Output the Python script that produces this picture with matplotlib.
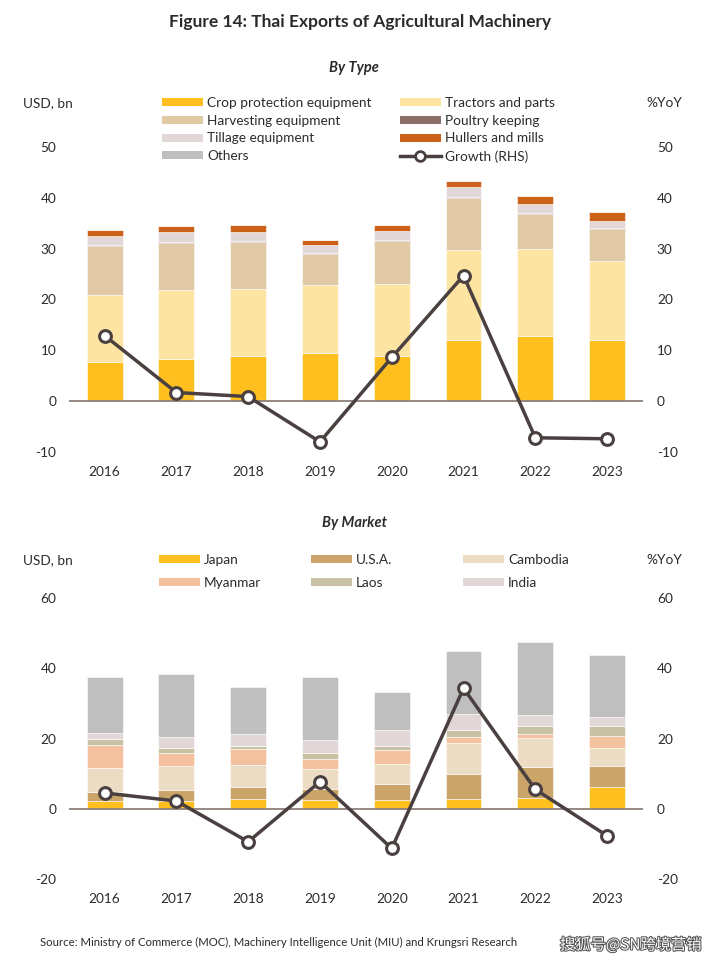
import matplotlib
matplotlib.use("Agg")
import matplotlib.pyplot as plt
import matplotlib.patheffects as pe
from matplotlib.lines import Line2D
from matplotlib.patches import Patch
import numpy as np

plt.rcParams['font.family'] = ['Lato', 'DejaVu Sans']
plt.rcParams['axes.unicode_minus'] = False

years = ["2016", "2017", "2018", "2019", "2020", "2021", "2022", "2023"]

# ---- By Type (USD bn) ----
crop_protection = [7.8, 8.2, 8.8, 9.5, 8.9, 12.0, 12.9, 12.0]
tractors = [13.1, 13.7, 13.3, 13.4, 14.2, 17.8, 17.1, 15.6]
harvesting = [9.6, 9.2, 9.2, 6.0, 8.5, 10.2, 6.9, 6.2]
poultry = [0.2, 0.2, 0.2, 0.2, 0.2, 0.2, 0.2, 0.2]
tillage = [1.8, 2.0, 1.7, 1.7, 1.7, 1.9, 1.6, 1.4]
hullers = [1.1, 1.1, 1.4, 1.0, 1.2, 1.3, 1.7, 1.8]
others_type = [0.0, 0.0, 0.0, 0.0, 0.0, 0.0, 0.0, 0.0]
growth_type = [12.9, 1.7, 0.9, -8.0, 8.6, 24.7, -7.2, -7.4]

# ---- By Market (USD bn) ----
japan = [2.2, 2.2, 2.8, 2.4, 2.4, 2.8, 3.1, 6.1]
usa = [2.6, 3.1, 3.4, 3.1, 4.6, 7.2, 8.8, 6.1]
cambodia = [6.7, 6.8, 6.2, 5.8, 5.7, 8.7, 8.2, 5.1]
myanmar = [6.6, 3.8, 4.5, 3.0, 3.9, 1.7, 1.3, 3.4]
laos = [1.7, 1.4, 0.9, 1.5, 1.4, 1.9, 2.1, 3.0]
india = [1.8, 3.1, 3.6, 3.7, 4.3, 4.7, 3.3, 2.3]
others_market = [15.8, 18.0, 13.3, 17.9, 11.0, 17.8, 20.6, 17.8]
growth_market = [4.5, 2.2, -9.4, 7.7, -11.3, 34.3, 5.5, -7.7]

type_names = ["Crop protection equipment", "Tractors and parts", "Harvesting equipment",
              "Poultry keeping", "Tillage equipment", "Hullers and mills", "Others"]
type_colors = ["#FFBF1F", "#FEE4A2", "#E1C9A5", "#8A6F68", "#E1D7D7", "#CC6219", "#BFBFBF"]
market_names = ["Japan", "U.S.A.", "Cambodia", "Myanmar", "Laos", "India", "Others"]
market_colors = ["#FFBF1F", "#CAA469", "#EBDCC3", "#F4C19E", "#C9C1A3", "#E1D7D7", "#BFBFBF"]

LINE_C = "#4B4040"
AXIS_C = "#8C807C"
TEXT_C = "#2B2B2B"
FS = 9.8

W, H = 720, 968
fig = plt.figure(figsize=(W / 100, H / 100), dpi=100)


def fx(px):
    return px / W


def fy(py):
    return 1 - py / H


def draw_panel(ax, series, colors, growth, ylim, yticks):
    x = np.arange(len(years))
    bottom = np.zeros(len(years))
    for vals, c in zip(series, colors):
        v = np.array(vals)
        ax.bar(x, v, bottom=bottom, width=0.5, color=c, edgecolor="white", linewidth=0.4, zorder=2)
        bottom += v
    ax.set_ylim(*ylim)
    ax.set_xlim(-0.5, 7.5)
    ax.set_yticks(yticks)
    ax.set_xticks(x)
    ax.set_xticklabels(years)
    for s in ax.spines.values():
        s.set_visible(False)
    ax.axhline(0, color=AXIS_C, lw=1.3, zorder=3)
    ax.tick_params(axis="both", length=0, labelsize=FS, colors=TEXT_C)
    ax.tick_params(axis="y", pad=9)
    ax.tick_params(axis="x", pad=10)
    ax2 = ax.twinx()
    ax2.set_ylim(*ylim)
    ax2.set_yticks(yticks)
    for s in ax2.spines.values():
        s.set_visible(False)
    ax2.tick_params(axis="y", length=0, labelsize=FS, colors=TEXT_C, pad=10)
    ax2.plot(x, growth, color=LINE_C, lw=2.5, marker="o", markersize=8.5,
             markerfacecolor="white", markeredgecolor=LINE_C, markeredgewidth=2.2, zorder=5)
    return ax2


def column_legend(handles, labels, x_px, y_px, spacing):
    leg = fig.legend(handles, labels, loc="upper left", bbox_to_anchor=(fx(x_px), fy(y_px)),
                     ncol=1, frameon=False, fontsize=FS, handlelength=3.0, handleheight=0.55,
                     handletextpad=0.3, labelspacing=spacing, borderaxespad=0, borderpad=0,
                     labelcolor=TEXT_C)
    return leg


# Title and subtitles
fig.text(0.5, fy(22), "Figure 14: Thai Exports of Agricultural Machinery", ha="center", va="center",
         fontsize=12.5, fontweight="bold", color=TEXT_C)
fig.text(fx(354), fy(68), "By Type", ha="center", va="center", fontsize=10.5,
         fontweight="bold", fontstyle="italic", color=TEXT_C)
fig.text(fx(354), fy(523), "By Market", ha="center", va="center", fontsize=10.5,
         fontweight="bold", fontstyle="italic", color=TEXT_C)

# ---- Top panel ----
ax1 = fig.add_axes([fx(68.7), fy(452), fx(643 - 68.7), fy(147) - fy(452)])
draw_panel(ax1, [crop_protection, tractors, harvesting, poultry, tillage, hullers, others_type],
           type_colors, growth_type, (-10, 50), [-10, 0, 10, 20, 30, 40, 50])
fig.text(fx(48), fy(103), "USD, bn", ha="center", va="center", fontsize=FS, color=TEXT_C)
fig.text(fx(664), fy(103), "%YoY", ha="center", va="center", fontsize=FS, color=TEXT_C)

h_type = [Patch(facecolor=c, edgecolor="none") for c in type_colors]
growth_handle = Line2D([0], [0], color=LINE_C, lw=2.5, marker="o", markersize=7,
                       markerfacecolor="white", markeredgecolor=LINE_C, markeredgewidth=2)
column_legend([h_type[0], h_type[2], h_type[4], h_type[6]],
              [type_names[0], type_names[2], type_names[4], type_names[6]], 162, 97, 0.42)
column_legend([h_type[1], h_type[3], h_type[5], growth_handle],
              [type_names[1], type_names[3], type_names[5], "Growth (RHS)"], 400, 97, 0.42)

# ---- Bottom panel ----
ax3 = fig.add_axes([fx(68.7), fy(879), fx(643 - 68.7), fy(598) - fy(879)])
draw_panel(ax3, [japan, usa, cambodia, myanmar, laos, india, others_market],
           market_colors, growth_market, (-20, 60), [-20, 0, 20, 40, 60])
fig.text(fx(48), fy(560), "USD, bn", ha="center", va="center", fontsize=FS, color=TEXT_C)
fig.text(fx(664), fy(560), "%YoY", ha="center", va="center", fontsize=FS, color=TEXT_C)

h_mk = [Patch(facecolor=c, edgecolor="none") for c in market_colors[:6]]
column_legend([h_mk[0], h_mk[3]], [market_names[0], market_names[3]], 159, 554, 0.78)
column_legend([h_mk[1], h_mk[4]], [market_names[1], market_names[4]], 311, 554, 0.78)
column_legend([h_mk[2], h_mk[5]], [market_names[2], market_names[5]], 463, 554, 0.78)

# Source and watermark
fig.text(fx(40), fy(942), "Source: Ministry of Commerce (MOC), Machinery Intelligence Unit (MIU) and Krungsri Research",
         ha="left", va="center", fontsize=8.2, color=TEXT_C)
wm = fig.text(fx(560), fy(945), "搜狐号@SN跨境营销", ha="left", va="center", fontsize=11,
              color="white", family=["Noto Sans CJK SC", "DejaVu Sans"])
wm.set_path_effects([pe.withStroke(linewidth=1.5, foreground="#555555")])

fig.savefig("out.png", dpi=100)
